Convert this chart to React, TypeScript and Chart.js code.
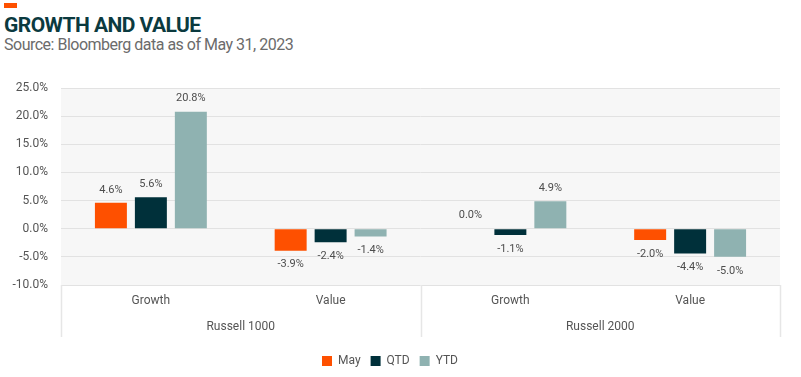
import React, { useEffect, useRef } from "react";
import { Chart, registerables } from "chart.js";

Chart.register(...registerables);

const subCategories = ["Growth", "Value", "Growth", "Value"];
const groupCategories = ["Russell 1000", "Russell 2000"];
const mayValues = [4.6, -3.9, 0.0, -2.0];
const qtdValues = [5.6, -2.4, -1.1, -4.4];
const ytdValues = [20.8, -1.4, 4.9, -5.0];
const seriesNames = ["May", "QTD", "YTD"];
const seriesColors = ["#FE5000", "#00303A", "#8FB2B1"];

const FONT = "Roboto, 'Liberation Sans', sans-serif";

const panelPlugin = {
  id: "panelBg",
  beforeDraw(chart: any) {
    const { ctx, chartArea } = chart;
    ctx.save();
    ctx.fillStyle = "#F7F7F7";
    ctx.fillRect(chartArea.left, chartArea.top, chartArea.right - chartArea.left, chartArea.bottom - chartArea.top);
    ctx.restore();
  },
  afterDraw(chart: any) {
    const { ctx, chartArea } = chart;
    const x2 = chart.scales.x2;
    ctx.save();
    ctx.strokeStyle = "#E6E6E6";
    ctx.lineWidth = 1.5;
    const xs = [x2.left];
    const n = groupCategories.length;
    const w = (x2.right - x2.left) / n;
    for (let i = 1; i <= n; i++) xs.push(x2.left + w * i);
    xs.forEach((x) => {
      ctx.beginPath();
      ctx.moveTo(Math.round(x) + 0.5, chartArea.bottom);
      ctx.lineTo(Math.round(x) + 0.5, x2.top + 24);
      ctx.stroke();
    });
    ctx.restore();
  },
};

const labelPlugin = {
  id: "valueLabels",
  afterDatasetsDraw(chart: any) {
    const { ctx } = chart;
    ctx.save();
    ctx.font = `11px ${FONT}`;
    ctx.fillStyle = "#4D4D4D";
    ctx.textAlign = "center";
    ctx.textBaseline = "middle";
    chart.data.datasets.forEach((ds: any, di: number) => {
      const meta = chart.getDatasetMeta(di);
      meta.data.forEach((bar: any, i: number) => {
        const v = ds.data[i];
        const txt = v.toFixed(1) + "%";
        if (v >= 0) {
          ctx.fillText(txt, bar.x, bar.y - 13);
        } else {
          ctx.fillText(txt, bar.x, bar.y + 14);
        }
      });
    });
    ctx.restore();
  },
};

export default function App() {
  const ref = useRef<HTMLCanvasElement>(null);
  useEffect(() => {
    const chart = new Chart(ref.current as HTMLCanvasElement, {
      type: "bar",
      data: {
        labels: subCategories,
        datasets: [mayValues, qtdValues, ytdValues].map((d, i) => ({
          label: seriesNames[i],
          data: d,
          backgroundColor: seriesColors[i],
          borderWidth: 0,
          categoryPercentage: 0.667,
          barPercentage: 0.8,
        })),
      },
      options: {
        animation: false,
        responsive: false,
        devicePixelRatio: 1,
        layout: { padding: { top: 88, left: 0, right: 21, bottom: 0 } },
        plugins: {
          title: { display: false },
          tooltip: { enabled: false },
          legend: {
            position: "bottom",
            labels: {
              boxWidth: 10,
              boxHeight: 10,
              padding: 10,
              color: "#555555",
              font: { family: FONT, size: 12 },
            },
          },
        },
        scales: {
          x: {
            position: "bottom",
            grid: { display: false, drawTicks: false },
            border: { display: false },
            ticks: { color: "#555555", font: { family: FONT, size: 12 }, padding: 9 },
            afterFit: (s: any) => { s.height = 28; },
          },
          x2: {
            type: "category",
            position: "bottom",
            labels: groupCategories,
            grid: { display: false, drawTicks: false },
            border: { display: false },
            ticks: { color: "#555555", font: { family: FONT, size: 12 }, padding: 7 },
            afterFit: (s: any) => { s.height = 32; },
          },
          y: {
            min: -10,
            max: 25,
            ticks: {
              stepSize: 5,
              color: "#555555",
              font: { family: FONT, size: 12 },
              padding: 13,
              callback: (v: any) => Number(v).toFixed(1) + "%",
            },
            grid: { color: "#E2E2E2", drawTicks: false },
            border: { display: false },
            afterFit: (s: any) => { s.width = 61; },
          },
        },
      },
      plugins: [panelPlugin, labelPlugin],
    });
    return () => chart.destroy();
  }, []);

  return (
    <div style={{ position: "absolute", left: 0, top: 0, width: 801, height: 377, background: "#fff" }}>
      <div style={{ position: "absolute", left: 4, top: 3, width: 13, height: 5, background: "#FE5000" }} />
      <div
        style={{
          position: "absolute",
          left: 4,
          top: 15,
          fontFamily: FONT,
          fontWeight: 700,
          fontSize: 21,
          lineHeight: "21px",
          letterSpacing: "-0.55px",
          color: "#0B3A3F",
          whiteSpace: "nowrap",
        }}
      >
        GROWTH AND VALUE
      </div>
      <div
        style={{
          position: "absolute",
          left: 4,
          top: 37,
          fontFamily: FONT,
          fontSize: 16,
          lineHeight: "16px",
          letterSpacing: "-0.5px",
          color: "#6B6B6B",
          whiteSpace: "nowrap",
        }}
      >
        Source: Bloomberg data as of May 31, 2023
      </div>
      <canvas ref={ref} width={801} height={377} style={{ position: "absolute", left: 0, top: 0 }} />
    </div>
  );
}
